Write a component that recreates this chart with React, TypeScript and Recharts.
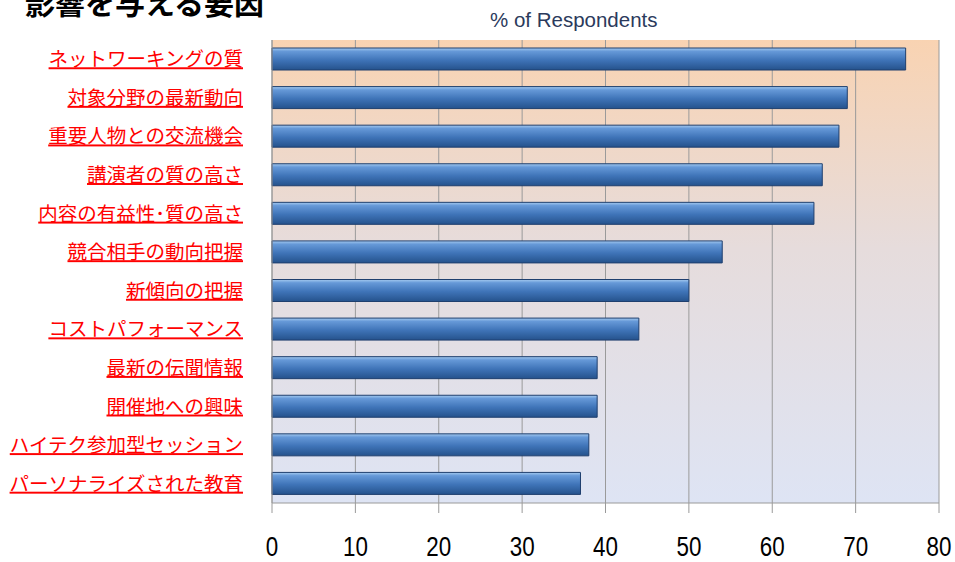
import React from 'react'
import { BarChart, Bar, XAxis, YAxis, CartesianGrid } from 'recharts'

const categories = [
  'ネットワーキングの質',
  '対象分野の最新動向',
  '重要人物との交流機会',
  '講演者の質の高さ',
  '内容の有益性･質の高さ',
  '競合相手の動向把握',
  '新傾向の把握',
  'コストパフォーマンス',
  '最新の伝聞情報',
  '開催地への興味',
  'ハイテク参加型セッション',
  'パーソナライズされた教育',
]
const respondents = [76, 69, 68, 66, 65, 54, 50, 44, 39, 39, 38, 37]
const xTicks = [0, 10, 20, 30, 40, 50, 60, 70, 80]

const data = categories.map((name, i) => ({ name, value: respondents[i] }))

const CategoryTick = (props: any) => {
  const { y, payload } = props
  return (
    <text
      x={243}
      y={y}
      dy={7}
      textAnchor="end"
      fill="#ff0000"
      fontSize={19.5}
      fontFamily="'Noto Sans CJK JP', sans-serif"
      style={{ textDecoration: 'underline' }}
    >
      {payload.value}
    </text>
  )
}

const NumberTick = (props: any) => {
  const { x, y, payload } = props
  return (
    <g transform={`translate(${x},${y + 41}) scale(0.8,1)`}>
      <text
        x={0}
        y={0}
        textAnchor="middle"
        fill="#000"
        fontSize={28}
        fontFamily="'Liberation Sans', Arial, sans-serif"
      >
        {payload.value}
      </text>
    </g>
  )
}

export default function App() {
  return (
    <div style={{ position: 'absolute', left: 0, top: 0, width: 955, height: 562, background: '#fff', overflow: 'hidden' }}>
      <div
        style={{
          position: 'absolute',
          left: 25,
          top: -14,
          fontSize: 30,
          lineHeight: '30px',
          fontWeight: 'bold',
          fontFamily: "'Noto Sans CJK JP', sans-serif",
          color: '#000',
          whiteSpace: 'nowrap',
        }}
      >
        影響を与える要因
      </div>
      <div
        style={{
          position: 'absolute',
          left: 490,
          top: 9,
          fontSize: 20.5,
          lineHeight: '22px',
          fontFamily: "'Liberation Sans', Arial, sans-serif",
          color: '#2b3a5c',
          whiteSpace: 'nowrap',
        }}
      >
        % of Respondents
      </div>
      <BarChart
        width={955}
        height={562}
        data={data}
        layout="vertical"
        margin={{ top: 40, right: 16, bottom: 0, left: 0 }}
        barSize={22}
      >
        <defs>
          <linearGradient id="bgGrad" x1="0" y1="0" x2="0" y2="1">
            <stop offset="0%" stopColor="#f9d3b2" />
            <stop offset="45%" stopColor="#e6dcdc" />
            <stop offset="100%" stopColor="#dee4f4" />
          </linearGradient>
          <linearGradient id="barGrad" x1="0" y1="0" x2="0" y2="1">
            <stop offset="0%" stopColor="#a6cbf0" />
            <stop offset="15%" stopColor="#6699d8" />
            <stop offset="55%" stopColor="#3f74b8" />
            <stop offset="100%" stopColor="#25528c" />
          </linearGradient>
        </defs>
        <CartesianGrid
          horizontal={false}
          stroke="#9a9a9a"
          fill="url(#bgGrad)"
          fillOpacity={1}
        />
        <XAxis
          type="number"
          domain={[0, 80]}
          ticks={xTicks}
          interval={0}
          axisLine={{ stroke: '#9a9a9a' }}
          tickLine={{ stroke: '#9a9a9a' }}
          tickSize={10}
          tick={<NumberTick />}
          height={59}
        />
        <YAxis
          type="category"
          dataKey="name"
          width={272}
          interval={0}
          axisLine={{ stroke: '#9a9a9a' }}
          tickLine={false}
          tick={<CategoryTick />}
        />
        <Bar
          dataKey="value"
          fill="url(#barGrad)"
          stroke="#1f3f6e"
          strokeWidth={1}
          isAnimationActive={false}
        />
      </BarChart>
    </div>
  )
}
